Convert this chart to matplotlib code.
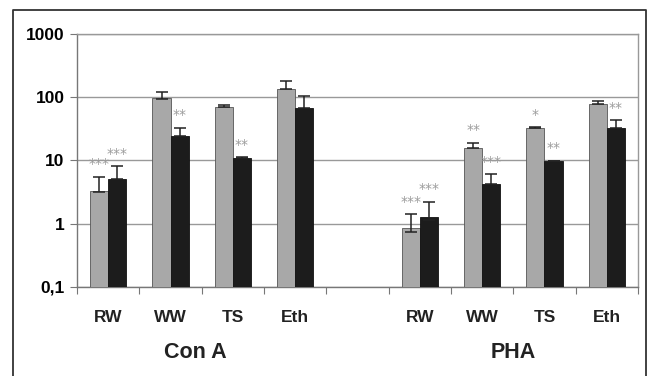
import matplotlib.pyplot as plt
from matplotlib.lines import Line2D
import numpy as np

# data
categories = ['RW', 'WW', 'TS', 'Eth', '', 'RW', 'WW', 'TS', 'Eth']
groups = ['Con A', 'PHA']

gray_vals = [3.2, 95, 70, 135, None, 0.75, 15.7, 32.5, 78]
gray_err_top = [5.5, 120, 75, 180, None, 1.4, 18.8, 33.5, 87]
black_vals = [5.0, 24, 10.9, 68, None, 1.15, 4.2, 9.6, 32.5]
black_err_top = [8.0, 33, 11.2, 105, None, 2.2, 6.0, 9.8, 43]

gray_stars = ['***', '', '', '', '', '***', '**', '*', '']
black_stars = ['***', '**', '**', '', '', '***', '***', '**', '**']

yticks = [0.1, 1, 10, 100, 1000]
ytick_labels = ['0,1', '1', '10', '100', '1000']

#-----------------------------------------------------------------------------

plt.rcParams['font.family'] = ['Liberation Sans', 'DejaVu Sans']

f = plt.figure(figsize=(6.53, 3.76), dpi=100)
a = f.add_axes([0.118, 0.237, 0.859, 0.673])

w = 0.29
x = np.arange(len(categories))

for i in range(len(categories)):
    if gray_vals[i] is None:
        continue
    # grijze staaf + foutbalk
    a.bar(x[i] - w / 2, gray_vals[i], w, bottom=0.1, color='#a8a8a8',
          edgecolor='#555555', linewidth=0.6, zorder=3)
    a.errorbar(x[i] - w / 2, gray_vals[i], yerr=[[0], [gray_err_top[i] - gray_vals[i]]],
               fmt='none', ecolor='#222222', elinewidth=1.1, capsize=4, capthick=1.1, zorder=4)
    # zwarte staaf + foutbalk
    a.bar(x[i] + w / 2, black_vals[i], w, bottom=0.1, color='#1c1c1c',
          edgecolor='#111111', linewidth=0.6, zorder=3)
    a.errorbar(x[i] + w / 2, black_vals[i], yerr=[[0], [black_err_top[i] - black_vals[i]]],
               fmt='none', ecolor='#222222', elinewidth=1.1, capsize=4, capthick=1.1, zorder=4)
    # sterretjes
    if gray_stars[i]:
        a.annotate(gray_stars[i], (x[i] - w / 2, gray_err_top[i]), xytext=(0, 4),
                   textcoords='offset points', ha='center', va='bottom',
                   fontsize=10, color='#9c9c9c', family='DejaVu Sans')
    if black_stars[i]:
        a.annotate(black_stars[i], (x[i] + w / 2, black_err_top[i]), xytext=(0, 4),
                   textcoords='offset points', ha='center', va='bottom',
                   fontsize=10, color='#9c9c9c', family='DejaVu Sans')

a.set_yscale('log')
a.set_ylim(0.1, 1000)
a.set_xlim(-0.5, len(categories) - 0.5)
a.set_yticks(yticks)
a.set_yticklabels(ytick_labels, fontsize=12.5, fontweight='bold')
a.yaxis.set_minor_locator(plt.NullLocator())
a.set_xticks(np.arange(-0.5, len(categories), 1.0))
a.set_xticklabels([])
a.tick_params(axis='x', direction='out', length=5, color='#777777')
a.tick_params(axis='y', direction='out', length=5, color='#777777', pad=4)
a.grid(axis='y', color='#999999', linewidth=1.0, zorder=0)

for s in a.spines.values():
    s.set_color('#999999')
    s.set_linewidth(1.0)
a.spines['bottom'].set_color('#777777')
a.spines['left'].set_color('#777777')

# categorie labels
for i, c in enumerate(categories):
    a.text(x[i], -0.12, c, transform=a.get_xaxis_transform(), ha='center', va='center',
           fontsize=12.5, fontweight='bold', color='#222222')

a.text(np.mean(x[0:4]) - 0.1, -0.26, groups[0], transform=a.get_xaxis_transform(),
       ha='center', va='center', fontsize=15.5, fontweight='bold', color='#222222')
a.text(np.mean(x[5:9]), -0.26, groups[1], transform=a.get_xaxis_transform(),
       ha='center', va='center', fontsize=15.5, fontweight='bold', color='#222222')

# buitenste kader
f.add_artist(Line2D([0.02, 0.02, 0.989, 0.989], [0.0, 0.973, 0.973, 0.0],
                    transform=f.transFigure, color='#333333', linewidth=1.3))

plt.savefig('out.png', dpi=100)
